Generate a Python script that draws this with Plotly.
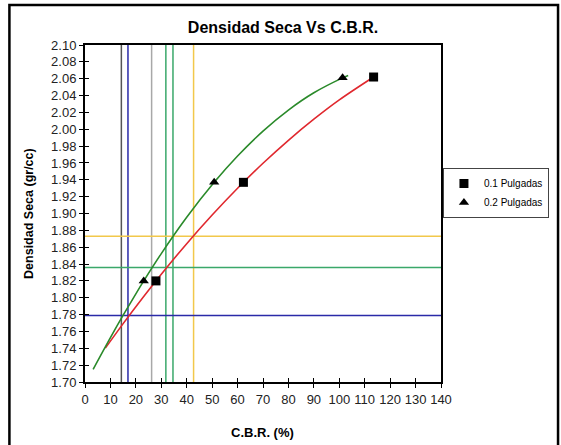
import plotly.graph_objects as go

# Data
cbr_01 = [27.9, 62.3, 113.5]
dens_01 = [1.820, 1.937, 2.062]
cbr_02 = [23.1, 50.8, 101.3]
dens_02 = [1.820, 1.937, 2.061]

# trend curves
red_x = [8.0, 15.0, 20.0, 30.0, 40.0, 50.0, 60.0, 70.0, 80.0, 90.0, 100.0, 113.5]
red_y = [1.7402, 1.7693, 1.7894, 1.8279, 1.8642, 1.8982, 1.9300, 1.9596, 1.9869, 2.0119, 2.0348, 2.0620]
green_x = [3.2, 10.0, 14.5, 20.0, 23.1, 30.0, 40.0, 50.8, 60.0, 70.0, 80.0, 90.0, 101.3, 103.5]
green_y = [1.7150, 1.7526, 1.7766, 1.8047, 1.8200, 1.8524, 1.8955, 1.9370, 1.9682, 1.9978, 2.0228, 2.0433, 2.0610, 2.0638]

# reference lines
vlines_x = [14.3, 16.9, 26.2, 31.8, 34.6, 42.7]
vlines_c = ["#555555", "#2a2aa8", "#a8a8a8", "#3aa86a", "#3aa86a", "#f2c84b"]
hlines_y = [1.873, 1.836, 1.779]
hlines_c = ["#f2c84b", "#3aa86a", "#2a2aa8"]

x_range = [0, 140]
y_range = [1.70, 2.10]

FONT = "Liberation Sans, Arial, sans-serif"

fig = go.Figure()

for xv, c in zip(vlines_x, vlines_c):
    fig.add_trace(go.Scatter(x=[xv, xv], y=y_range, mode="lines",
                             line=dict(color=c, width=1.5), showlegend=False, hoverinfo="skip"))
for yv, c in zip(hlines_y, hlines_c):
    fig.add_trace(go.Scatter(x=x_range, y=[yv, yv], mode="lines",
                             line=dict(color=c, width=1.5), showlegend=False, hoverinfo="skip"))

fig.add_trace(go.Scatter(x=red_x, y=red_y, mode="lines", line=dict(color="#e0282e", width=1.6, shape="spline"),
                         showlegend=False, hoverinfo="skip"))
fig.add_trace(go.Scatter(x=green_x, y=green_y, mode="lines", line=dict(color="#2a8a2a", width=1.6, shape="spline"),
                         showlegend=False, hoverinfo="skip"))

fig.add_trace(go.Scatter(x=cbr_01, y=dens_01, mode="markers", name="0.1 Pulgadas",
                         marker=dict(symbol="square", size=9, color="black")))
fig.add_trace(go.Scatter(x=cbr_02, y=dens_02, mode="markers", name="0.2 Pulgadas",
                         marker=dict(symbol="triangle-up", size=9, color="black")))

# dummy trace for the overlay axes (inside ticks, to produce crossing ticks)
fig.add_trace(go.Scatter(x=[None], y=[None], xaxis="x2", yaxis="y2", showlegend=False, hoverinfo="skip"))

L, R, T, B = 85, 111, 45, 63
W, H = 561, 445
pw, ph = W - L - R, H - T - B

def px_to_paper_x(px):
    return (px - L) / pw

def px_to_paper_y(py):
    return (H - B - py) / ph

fig.update_layout(
    width=W, height=H,
    margin=dict(l=L, r=R, t=T, b=B),
    paper_bgcolor="white", plot_bgcolor="white",
    font=dict(family=FONT, size=13, color="#222222"),
    title=dict(text="<b>Densidad Seca Vs C.B.R.</b>", x=px_to_paper_x(288), xref="paper",
               xanchor="center", y=1 - 27 / H, yref="container", yanchor="middle",
               font=dict(size=16, color="black", family=FONT)),
    xaxis=dict(range=x_range, dtick=10, tick0=0, showgrid=False, zeroline=False,
               showline=True, linecolor="black", linewidth=2, mirror=True,
               ticks="outside", ticklen=4, tickcolor="black", tickwidth=1,
               tickfont=dict(size=13, color="#222222")),
    yaxis=dict(range=y_range, dtick=0.02, tick0=1.70, tickformat=".2f", showgrid=False, zeroline=False,
               showline=True, linecolor="black", linewidth=2, mirror=True,
               ticks="outside", ticklen=4, tickcolor="black", tickwidth=1,
               tickfont=dict(size=13, color="#222222")),
    xaxis2=dict(overlaying="x", matches="x", range=x_range, dtick=10, tick0=0, side="bottom",
                showgrid=False, zeroline=False, showline=False, showticklabels=False,
                ticks="inside", ticklen=4, tickcolor="black", tickwidth=1),
    yaxis2=dict(overlaying="y", matches="y", range=y_range, dtick=0.02, tick0=1.70, side="left",
                showgrid=False, zeroline=False, showline=False, showticklabels=False,
                ticks="inside", ticklen=4, tickcolor="black", tickwidth=1),
    legend=dict(x=px_to_paper_x(452), y=px_to_paper_y(168), xanchor="left", yanchor="top",
                bordercolor="#444444", borderwidth=1, bgcolor="white",
                font=dict(size=10, color="black", family=FONT),
                itemwidth=30, tracegroupgap=0),
    annotations=[
        dict(text="<b>Densidad Seca (gr/cc)</b>", xref="paper", yref="paper",
             x=px_to_paper_x(27), y=0.5, textangle=-90, showarrow=False,
             xanchor="center", yanchor="middle", font=dict(size=12.5, color="black", family=FONT)),
        dict(text="<b>C.B.R. (%)</b>", xref="paper", yref="paper",
             x=px_to_paper_x(267), y=px_to_paper_y(432), showarrow=False,
             xanchor="center", yanchor="middle", font=dict(size=13, color="black", family=FONT)),
    ],
    shapes=[
        dict(type="rect", xref="paper", yref="paper",
             x0=px_to_paper_x(7.5), x1=px_to_paper_x(570),
             y0=px_to_paper_y(455), y1=px_to_paper_y(5),
             line=dict(color="black", width=2.5), fillcolor="rgba(0,0,0,0)", layer="below"),
    ],
)

fig.write_html("out.html")
